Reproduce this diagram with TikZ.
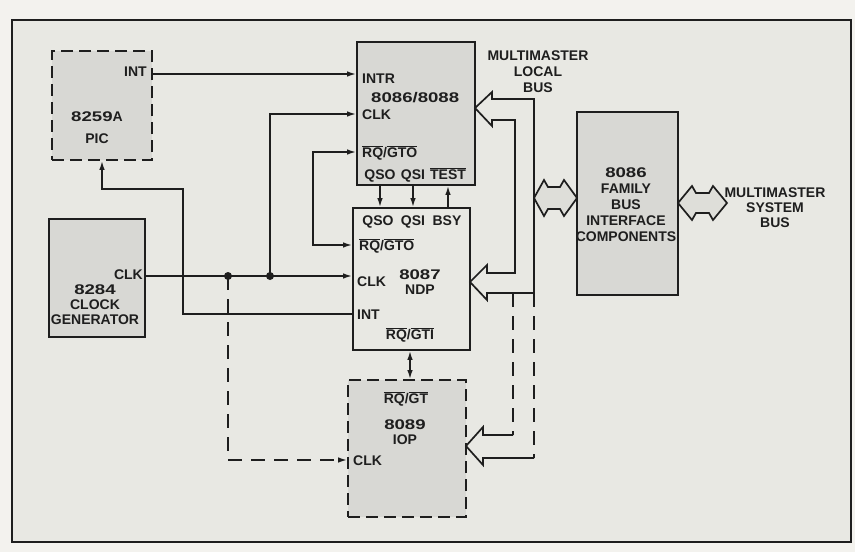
\documentclass[tikz,border=0pt]{standalone}
\usepackage{fontspec}
\setmainfont{Liberation Sans}
\newfontfamily\numfont{Liberation Sans Bold}[FakeStretch=1.33]
\usetikzlibrary{arrows.meta}
\newcommand{\ovl}[1]{$\overline{\mbox{#1}}$}
\newcommand{\nm}[1]{{\numfont #1}}
\definecolor{ink}{HTML}{1E1E1E}
\definecolor{outside}{HTML}{F3F2EE}
\definecolor{paper}{HTML}{E8E8E3}
\definecolor{boxfill}{HTML}{D8D8D4}
\definecolor{busfill}{HTML}{DEDED9}
\begin{document}
\begin{tikzpicture}[x=1pt,y=-1pt,
  font=\fontsize{14}{15}\selectfont\bfseries,
  box/.style={draw=ink, line width=1.7pt, fill=boxfill, inner sep=0pt},
  dbox/.style={box, dash pattern=on 12pt off 6pt},
  lbl/.style={inner sep=0pt, text=ink, text height=10pt, text depth=0pt},
  mlbl/.style={inner sep=0pt, text=ink, align=center},
  wire/.style={draw=ink, line width=1.6pt},
  dwire/.style={wire, dash pattern=on 14pt off 9pt},
  arr/.style={wire, -{Latex[length=9pt,width=5.5pt]}},
  darr/.style={dwire, -{Latex[length=9pt,width=5.5pt]}},
  biarr/.style={wire, {Latex[length=9pt,width=5.5pt]}-{Latex[length=9pt,width=5.5pt]}},
  bus/.style={draw=ink, line width=1.7pt, line join=miter}
]
\useasboundingbox (0,0) rectangle (855,552);
\fill[outside] (0,0) rectangle (855,552);
\draw[line width=1.9pt, draw=ink, fill=paper] (12,20) rectangle (851,542);

% ---- boxes ----
\node[dbox, minimum width=100pt, minimum height=109pt] (pic) at (102,105.5) {};
\node[box, minimum width=96pt, minimum height=118pt] (clk) at (97,278) {};
\node[box, minimum width=118pt, minimum height=143pt] (cpu) at (416,113.5) {};
\node[box, fill=paper, minimum width=117pt, minimum height=142pt] (ndp) at (411.5,279) {};
\node[dbox, minimum width=118pt, minimum height=137pt] (iop) at (407,448.5) {};
\node[box, minimum width=101pt, minimum height=183pt] (bif) at (627.5,203.5) {};

% ---- labels: 8259A ----
\node[lbl, anchor=east] (picint) at (147,71) {INT};
\node[mlbl] (picname) at (97,128) {\nm{8259}A\\[7pt]PIC};
% ---- 8284 ----
\node[lbl, anchor=east] (clkout) at (143,274) {CLK};
\node[mlbl] (clkname) at (95,305) {\nm{8284}\\CLOCK\\GENERATOR};
% ---- 8086/8088 ----
\node[lbl, anchor=west] (cpuintr) at (362,78) {INTR};
\node[lbl, anchor=west] (cpuname) at (371,97) {\nm{8086/8088}};
\node[lbl, anchor=west] (cpuclk) at (362,114) {CLK};
\node[lbl, anchor=west] (cpurq) at (362,152) {\ovl{RQ}/\ovl{GTO}};
\node[lbl] (cpuqso) at (380,174) {QSO};
\node[lbl] (cpuqsi) at (413,174) {QSI};
\node[lbl] (cputest) at (448,174) {\ovl{TEST}};
% ---- 8087 ----
\node[lbl] (ndpqso) at (378,220) {QSO};
\node[lbl] (ndpqsi) at (413,220) {QSI};
\node[lbl] (ndpbsy) at (447,220) {BSY};
\node[lbl, anchor=west] (ndprq) at (359,245) {\ovl{RQ}/\ovl{GTO}};
\node[lbl, anchor=west] (ndpclk) at (357,281) {CLK};
\node[mlbl] (ndpname) at (420,282) {\nm{8087}\\NDP};
\node[lbl, anchor=west] (ndpint) at (357,314) {INT};
\node[lbl] (ndprqgt) at (410,334) {\ovl{RQ}/\ovl{GTI}};
% ---- 8089 ----
\node[lbl] (ioprq) at (406,398) {\ovl{RQ}/\ovl{GT}};
\node[mlbl] (iopname) at (405,432) {\nm{8089}\\IOP};
\node[lbl, anchor=west] (iopclk) at (353,460) {CLK};
% ---- bus interface ----
\node[mlbl, font=\fontsize{14}{16}\selectfont\bfseries] (bifname) at (626,205) {\nm{8086}\\FAMILY\\BUS\\INTERFACE\\COMPONENTS};
\node[mlbl, font=\fontsize{14}{16}\selectfont\bfseries] (localbus) at (538,72) {MULTIMASTER\\LOCAL\\BUS};
\node[mlbl] (sysbus) at (775,208) {MULTIMASTER\\SYSTEM\\BUS};

% ---- connectors ----
\coordinate (intline) at (250,74);
\draw[arr] (pic.east |- intline) -- (cpu.west |- intline);

\coordinate (j1) at (228,276);
\coordinate (j2) at (270,276);
\draw[wire] (clk.east |- j1) -- (j1);
\draw[arr] (j1) -- (ndp.west |- j1);
\draw[arr] (j2) |- (cpu.west |- cpuclk);
\draw[darr] (j1) |- (iop.west |- iopclk);
\fill[ink] (j1) circle (4pt);
\fill[ink] (j2) circle (4pt);

\coordinate (k1) at (183,189);
\draw[arr] (ndp.west |- ndpint) -| (k1) -| (pic.south);

\coordinate (k2) at (313,200);
\draw[biarr] (cpu.west |- cpurq) -| (k2) |- (ndp.west |- ndprq);

\draw[arr] (cpuqso |- cpu.south) -- (cpuqso |- ndp.north);
\draw[arr] (cpuqsi |- cpu.south) -- (cpuqsi |- ndp.north);
\draw[arr] (cputest |- ndp.north) -- (cputest |- cpu.south);
\draw[biarr] (ndprqgt |- ndp.south) -- (ndprqgt |- iop.north);

% ---- multimaster local bus ----
\draw[bus] (475,108) -- (492,92) -- (492,99) -- (534,99) -- (534,293) -- (487,293)
  -- (487,300) -- (470,282) -- (487,265) -- (487,273) -- (515,273) -- (515,120)
  -- (492,120) -- (492,126) -- cycle;
\draw[dwire] (513,293) -- (513,435);
\draw[dwire] (534,293) -- (534,458);
\draw[bus] (513,435) -- (483,435) -- (483,427) -- (466,446) -- (483,465) -- (483,458) -- (534,458);

% ---- double bus arrows ----
\draw[bus, fill=busfill] (534,198) -- (544,180) -- (548,187) -- (560,187) -- (564,180)
  -- (577,198) -- (564,216) -- (560,209) -- (548,209) -- (544,216) -- cycle;
\draw[bus, fill=busfill] (678,203) -- (692,186) -- (696,193) -- (709,193) -- (713,186)
  -- (727,203) -- (713,220) -- (709,213) -- (696,213) -- (692,220) -- cycle;
\end{tikzpicture}
\end{document}
